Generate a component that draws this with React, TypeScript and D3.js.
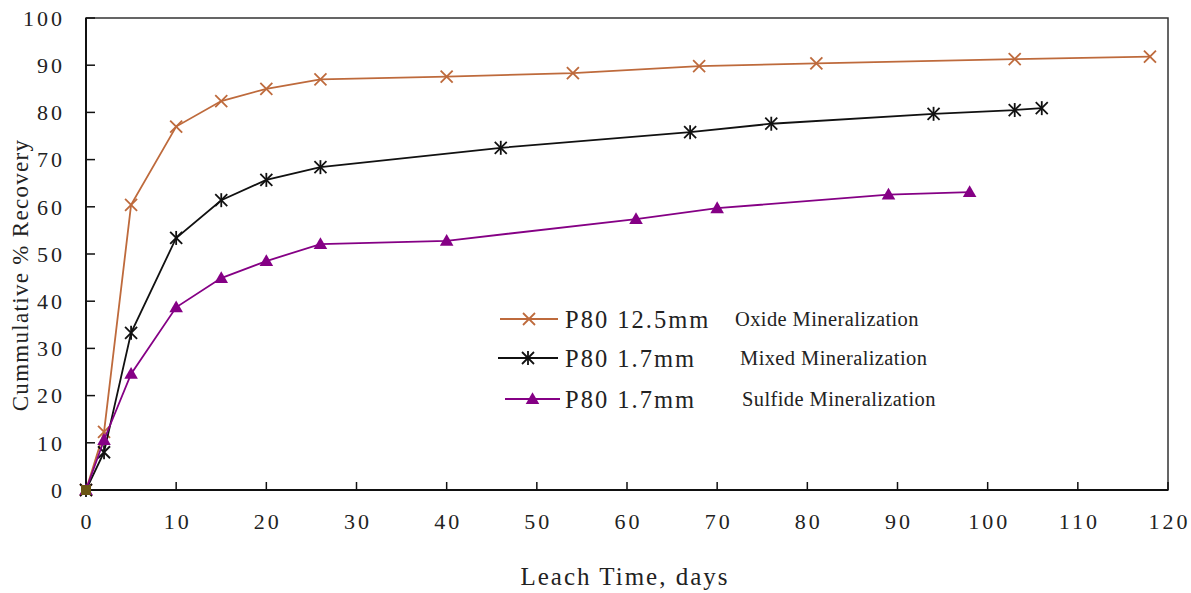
import * as d3 from 'd3';
import React from 'react';

const width = 1191;
const height = 593;
const margin = { top: 18, right: 23, bottom: 103, left: 86 };

// leach time (days) and cumulative recovery (%)
const oxideDays = [0, 2, 5, 10, 15, 20, 26, 40, 54, 68, 81, 103, 118];
const oxideRec = [0, 12.3, 60.4, 77, 82.4, 85, 87, 87.6, 88.3, 89.8, 90.4, 91.3, 91.8];

const mixedDays = [0, 2, 5, 10, 15, 20, 26, 46, 67, 76, 94, 103, 106];
const mixedRec = [0, 8, 33.3, 53.4, 61.4, 65.7, 68.4, 72.5, 75.8, 77.6, 79.7, 80.5, 80.9];

const sulfideDays = [0, 2, 5, 10, 15, 20, 26, 40, 61, 70, 89, 98];
const sulfideRec = [0, 10.6, 24.6, 38.7, 44.9, 48.5, 52.1, 52.8, 57.4, 59.7, 62.6, 63.1];

const xTicks = [0, 10, 20, 30, 40, 50, 60, 70, 80, 90, 100, 110, 120];
const yTicks = [0, 10, 20, 30, 40, 50, 60, 70, 80, 90, 100];

const seriesNames = ['P80 12.5mm', 'P80 1.7mm', 'P80 1.7mm'];
const seriesNotes = ['Oxide Mineralization', 'Mixed Mineralization', 'Sulfide Mineralization'];

const font = "'Liberation Serif', 'Times New Roman', serif";

type Pt = [number, number];

const Marker = ({ kind, x, y, color }: { kind: string; x: number; y: number; color: string }) => {
  const s = 6;
  if (kind === 'x') {
    return (
      <g stroke={color} strokeWidth={1.8}>
        <line x1={x - s} y1={y - s} x2={x + s} y2={y + s} />
        <line x1={x - s} y1={y + s} x2={x + s} y2={y - s} />
      </g>
    );
  }
  if (kind === 'star') {
    return (
      <g stroke={color} strokeWidth={1.8}>
        <line x1={x - s} y1={y - s} x2={x + s} y2={y + s} />
        <line x1={x - s} y1={y + s} x2={x + s} y2={y - s} />
        <line x1={x} y1={y - s - 1} x2={x} y2={y + s + 1} />
      </g>
    );
  }
  const tri = d3.symbol(d3.symbolTriangle, 80)();
  return <path d={tri as string} transform={`translate(${x},${y + 1})`} fill={color} />;
};

export default function App() {
  const x = d3.scaleLinear().domain([0, 120]).range([margin.left, width - margin.right]);
  const y = d3.scaleLinear().domain([0, 100]).range([height - margin.bottom, margin.top]);

  const series = [
    { days: oxideDays, rec: oxideRec, color: '#BE6A3C', marker: 'x' },
    { days: mixedDays, rec: mixedRec, color: '#111111', marker: 'star' },
    { days: sulfideDays, rec: sulfideRec, color: '#850085', marker: 'tri' },
  ];

  const line = d3
    .line<Pt>()
    .x(d => x(d[0]))
    .y(d => y(d[1]));

  const x0 = x(0);
  const x1 = x(120);
  const y0 = y(0);
  const y1 = y(100);

  return (
    <div style={{ position: 'absolute', left: 0, top: 0 }}>
      <svg width={width} height={height} style={{ display: 'block', background: '#fff' }}>
        {/* plot frame */}
        <rect x={x0} y={y1} width={x1 - x0} height={y0 - y1} fill="none" stroke="#333" strokeWidth={1.5} />
        <line x1={x0} y1={y0} x2={x1} y2={y0} stroke="#111" strokeWidth={2} />
        <line x1={x0} y1={y0} x2={x0} y2={y1} stroke="#111" strokeWidth={2} />

        {yTicks.map(t => (
          <g key={'y' + t}>
            <line x1={x0} x2={x0 + 9} y1={y(t)} y2={y(t)} stroke="#111" strokeWidth={1.5} />
            <text
              x={x0 - 21}
              y={y(t)}
              dy="0.35em"
              textAnchor="end"
              fontFamily={font}
              fontSize={22}
              letterSpacing={3}
              fill="#222"
            >
              {t}
            </text>
          </g>
        ))}
        {xTicks.map(t => (
          <g key={'x' + t}>
            <line x1={x(t)} x2={x(t)} y1={y0} y2={y0 - 8} stroke="#111" strokeWidth={1.5} />
            <text
              x={x(t) + 1.5}
              y={y0 + 39}
              textAnchor="middle"
              fontFamily={font}
              fontSize={22}
              letterSpacing={3}
              fill="#222"
            >
              {t}
            </text>
          </g>
        ))}

        <text
          transform={`translate(28, ${(y0 + y1) / 2 + 21}) rotate(-90)`}
          textAnchor="middle"
          fontFamily={font}
          fontSize={23}
          letterSpacing={1.3}
          fill="#222"
        >
          Cummulative % Recovery
        </text>
        <text
          x={(x0 + x1) / 2 - 2}
          y={585}
          textAnchor="middle"
          fontFamily={font}
          fontSize={25}
          letterSpacing={2}
          fill="#222"
        >
          Leach Time, days
        </text>

        {series.map((s, i) => {
          const pts: Pt[] = s.days.map((d, j) => [d, s.rec[j]]);
          return (
            <g key={i}>
              <path d={line(pts) as string} fill="none" stroke={s.color} strokeWidth={1.8} />
              {pts.map((p, j) => (
                <Marker key={j} kind={s.marker} x={x(p[0])} y={y(p[1])} color={s.color} />
              ))}
            </g>
          );
        })}
        {/* overlapping markers at the origin appear as a dark square */}
        <rect x={x(0) - 5} y={y(0) - 5} width={10} height={10} fill="#6B5514" />

        {/* legend */}
        {series.map((s, i) => {
          const ly = [319, 358, 399][i];
          const lx = [500, 498, 505][i];
          const lw = [58, 60, 55][i];
          return (
            <g key={'lg' + i}>
              <line x1={lx} x2={lx + lw} y1={ly} y2={ly} stroke={s.color} strokeWidth={1.8} />
              <Marker kind={s.marker} x={lx + lw / 2} y={ly} color={s.color} />
              <text
                x={565}
                y={ly}
                dy="0.35em"
                fontFamily={font}
                fontSize={24.5}
                letterSpacing={2}
                fill="#222"
              >
                {seriesNames[i]}
              </text>
              <text
                x={[735, 740, 742][i]}
                y={ly}
                dy="0.35em"
                fontFamily={font}
                fontSize={20.5}
                letterSpacing={0.4}
                fill="#222"
              >
                {seriesNotes[i]}
              </text>
            </g>
          );
        })}
      </svg>
    </div>
  );
}
